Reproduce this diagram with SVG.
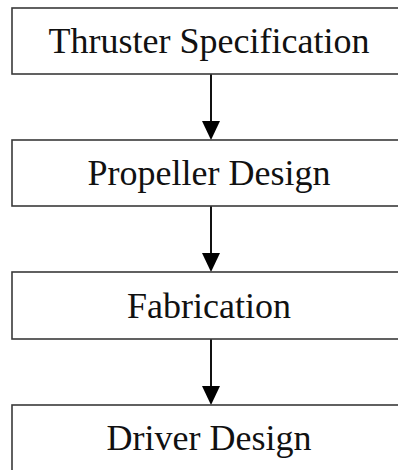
<svg xmlns="http://www.w3.org/2000/svg" width="398" height="470" viewBox="0 0 398 470">
  <defs>
    <style>
      .box { fill: #ffffff; stroke: #3a3a3a; stroke-width: 1.6; }
      .label { font-family: "Liberation Serif", "Times New Roman", serif; font-size: 36px; fill: #111111; text-anchor: middle; }
      .edge { stroke: #111111; stroke-width: 2; fill: none; }
      .head { fill: #000000; }
    </style>
  </defs>
  <rect width="398" height="470" fill="#ffffff"/>

  <g id="connectors">
    <line class="edge" x1="211" y1="74" x2="211" y2="124"/>
    <polygon class="head" points="202,121 220,121 211,140"/>
    <line class="edge" x1="211" y1="206" x2="211" y2="256"/>
    <polygon class="head" points="202,253 220,253 211,272"/>
    <line class="edge" x1="211" y1="339" x2="211" y2="389"/>
    <polygon class="head" points="202,386 220,386 211,405"/>
  </g>

  <g id="thruster-specification">
    <rect class="box" x="12" y="8" width="400" height="66"/>
    <text class="label" x="209" y="53">Thruster Specification</text>
  </g>

  <g id="propeller-design">
    <rect class="box" x="12" y="140" width="400" height="66"/>
    <text class="label" x="209" y="185">Propeller Design</text>
  </g>

  <g id="fabrication">
    <rect class="box" x="12" y="272" width="400" height="67"/>
    <text class="label" x="209" y="318">Fabrication</text>
  </g>

  <g id="driver-design">
    <rect class="box" x="12" y="405" width="400" height="70"/>
    <text class="label" x="209" y="450">Driver Design</text>
  </g>
</svg>
